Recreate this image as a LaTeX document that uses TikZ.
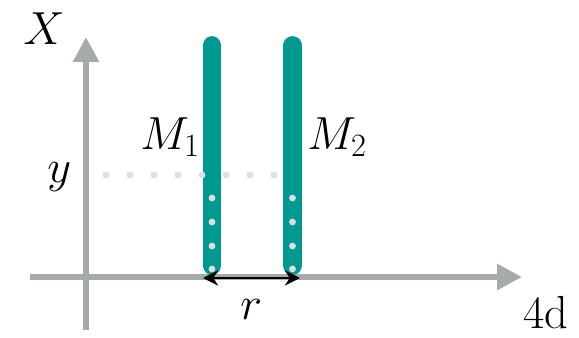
\RequirePackage{fix-cm}
\documentclass[tikz,border=0pt]{standalone}
\usepackage{tikz}
\usetikzlibrary{arrows.meta}
\definecolor{axisgray}{RGB}{166,171,170}
\definecolor{dotgray}{RGB}{221,222,224}
\definecolor{barteal}{RGB}{0,153,143}

\begin{document}
\begin{tikzpicture}[
    x=0.25mm, y=-0.25mm,
    axis/.style={line width=1.5mm, draw=axisgray, -{Triangle[length=6.25mm, width=6.25mm]}},
    bar/.style={line width=4.7mm, draw=barteal, line cap=round},
    dist/.style={line width=0.6mm, {Stealth[length=3.8mm, width=3.8mm]}-{Stealth[length=3.8mm, width=3.8mm]}},
    dot/.style={fill=dotgray, draw=none},
    lbl/.style={inner sep=0pt, anchor=base west, font=\fontsize{33}{40}\selectfont}
]
\useasboundingbox (0,0) rectangle (579,338);

% Coordinates
\coordinate (xstart) at (30,277);
\coordinate (xend) at (522,277);
\coordinate (ystart) at (86,330);
\coordinate (yend) at (86,37);
\coordinate (m1top) at (212,45.5);
\coordinate (m1bot) at (212,265.5);
\coordinate (m2top) at (292.5,45.5);
\coordinate (m2bot) at (292.5,265.5);
\coordinate (rleft) at (203,278);
\coordinate (rright) at (300,278);

% Axes
\draw[axis] (xstart) -- (xend);
\draw[axis] (ystart) -- (yend);

% Bars
\draw[bar] (m1top) -- (m1bot);
\draw[bar] (m2top) -- (m2bot);

% Dots
\foreach \x in {106,130,...,274}
    \fill[dot] (\x,175) circle (0.85mm);
\foreach \y in {198,222,246,269} {
    \fill[dot] (212,\y) circle (0.85mm);
    \fill[dot] (292.5,\y) circle (0.85mm);
}

% Distance
\draw[dist] (rleft) -- (rright);

% Labels
\node[lbl] (xlab) at (23,45) {$X$};
\node[lbl] (ylab) at (47,183) {$y$};
\node[lbl] (m1lab) at (140,150) {$M_1$};
\node[lbl] (m2lab) at (307,150) {$M_2$};
\node[lbl] (rlab) at (240,320) {$r$};
\node[lbl] (dimlab) at (523,329) {4d};

\end{tikzpicture}
\end{document}
